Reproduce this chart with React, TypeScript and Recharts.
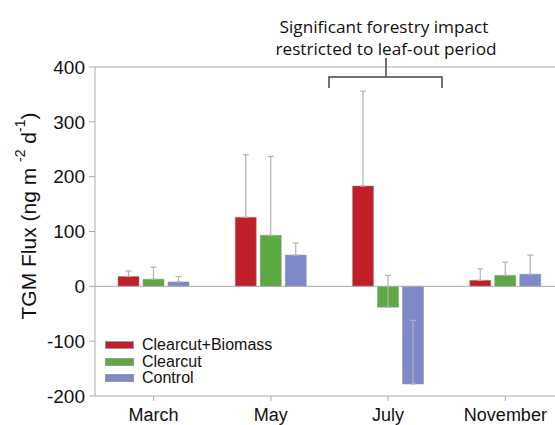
import React from 'react';
import { Bar, BarChart, XAxis, YAxis, ErrorBar, ReferenceLine, Legend } from "recharts";

const months = ["March", "May", "July", "November"];
const biomassFlux = [18, 126, 183, 11];
const biomassErr = [10, 114, 173, 21];
const clearcutFlux = [13, 93, -38, 20];
const clearcutErr = [22, 144, 58, 24];
const controlFlux = [8, 57, -178, 22];
const controlErr = [10, 22, 116, 35];
const yTicks = [-200, -100, 0, 100, 200, 300, 400];

const series = [
  { key: "biomass", err: "biomassErr", name: "Clearcut+Biomass", color: "#c01f2a" },
  { key: "clearcut", err: "clearcutErr", name: "Clearcut", color: "#5ca843" },
  { key: "control", err: "controlErr", name: "Control", color: "#7f88c9" },
];

const data = months.map((m, i) => ({
  month: m,
  biomass: biomassFlux[i],
  biomassErr: [0, biomassErr[i]],
  clearcut: clearcutFlux[i],
  clearcutErr: [0, clearcutErr[i]],
  control: controlFlux[i],
  controlErr: [0, controlErr[i]],
}));

const axisColor = "#ababab";
const font = "'Liberation Sans', Arial, sans-serif";

const YLabel = () => (
  <text
    x={28}
    y={216}
    transform="rotate(-90, 28, 216)"
    textAnchor="middle"
    dominantBaseline="central"
    fontFamily={font}
    fontSize={21}
    fill="#111"
  >
    TGM Flux  (ng m <tspan dy={-8} fontSize={14}>-2</tspan>
    <tspan dy={8}> d</tspan>
    <tspan dy={-8} fontSize={14}>-1</tspan>
    <tspan dy={8}>)</tspan>
  </text>
);

const LegendBox = () => (
  <div style={{ fontFamily: font, fontSize: 16, color: "#111", lineHeight: "16.5px" }}>
    {series.map((s) => (
      <div key={s.key} style={{ display: "flex", alignItems: "center", height: 16.5 }}>
        <span style={{ display: "inline-block", width: 29, height: 8, background: s.color, marginRight: 8, border: "0.5px solid #999", boxSizing: "border-box" }} />
        <span>{s.name}</span>
      </div>
    ))}
  </div>
);

export default function App() {
  return (
    <div style={{ position: "absolute", left: 0, top: 0, width: 555, height: 425, overflow: "hidden", background: "#fff" }}>
      <BarChart
        width={570}
        height={425}
        data={data}
        margin={{ top: 67, right: 6, bottom: 0, left: 35 }}
        barCategoryGap={23}
        barGap={4}
      >
        <XAxis
          dataKey="month"
          height={29}
          stroke={axisColor}
          tickSize={5}
          tickMargin={7}
          tick={{ fill: "#111", fontSize: 18, fontFamily: font }}
        />
        <YAxis
          width={60}
          domain={[-200, 400]}
          ticks={yTicks}
          type="number"
          allowDataOverflow
          stroke={axisColor}
          tickSize={6}
          tickMargin={4}
          tick={{ fill: "#111", fontSize: 19, fontFamily: font }}
          label={<YLabel />}
        />
        <ReferenceLine y={400} stroke={axisColor} />
        <ReferenceLine y={0} stroke={axisColor} />
        <Legend
          layout="vertical"
          align="center"
          verticalAlign="middle"
          content={<LegendBox />}
          wrapperStyle={{ left: 105, top: 337, width: 220 }}
        />
        {series.map((s) => (
          <Bar key={s.key} dataKey={s.key} name={s.name} fill={s.color} stroke="#8f8f8f" strokeWidth={0.5} isAnimationActive={false}>
            <ErrorBar dataKey={s.err} direction="y" width={3} stroke="#b3b3b3" strokeWidth={1.2} isAnimationActive={false} />
          </Bar>
        ))}
      </BarChart>
      <svg width={555} height={100} style={{ position: "absolute", left: 0, top: 0, pointerEvents: "none" }}>
        <text x={384} y={33} textAnchor="middle" fontFamily="'Open Sans', sans-serif" fontSize={17.2} fill="#111">
          Significant forestry impact
        </text>
        <text x={386} y={55} textAnchor="middle" fontFamily="'Open Sans', sans-serif" fontSize={17.2} fill="#111">
          restricted to leaf-out period
        </text>
        <path d="M329,88 V77 H442 V88 M386,77 V58" fill="none" stroke="#444" strokeWidth={1.5} />
      </svg>
    </div>
  );
}
